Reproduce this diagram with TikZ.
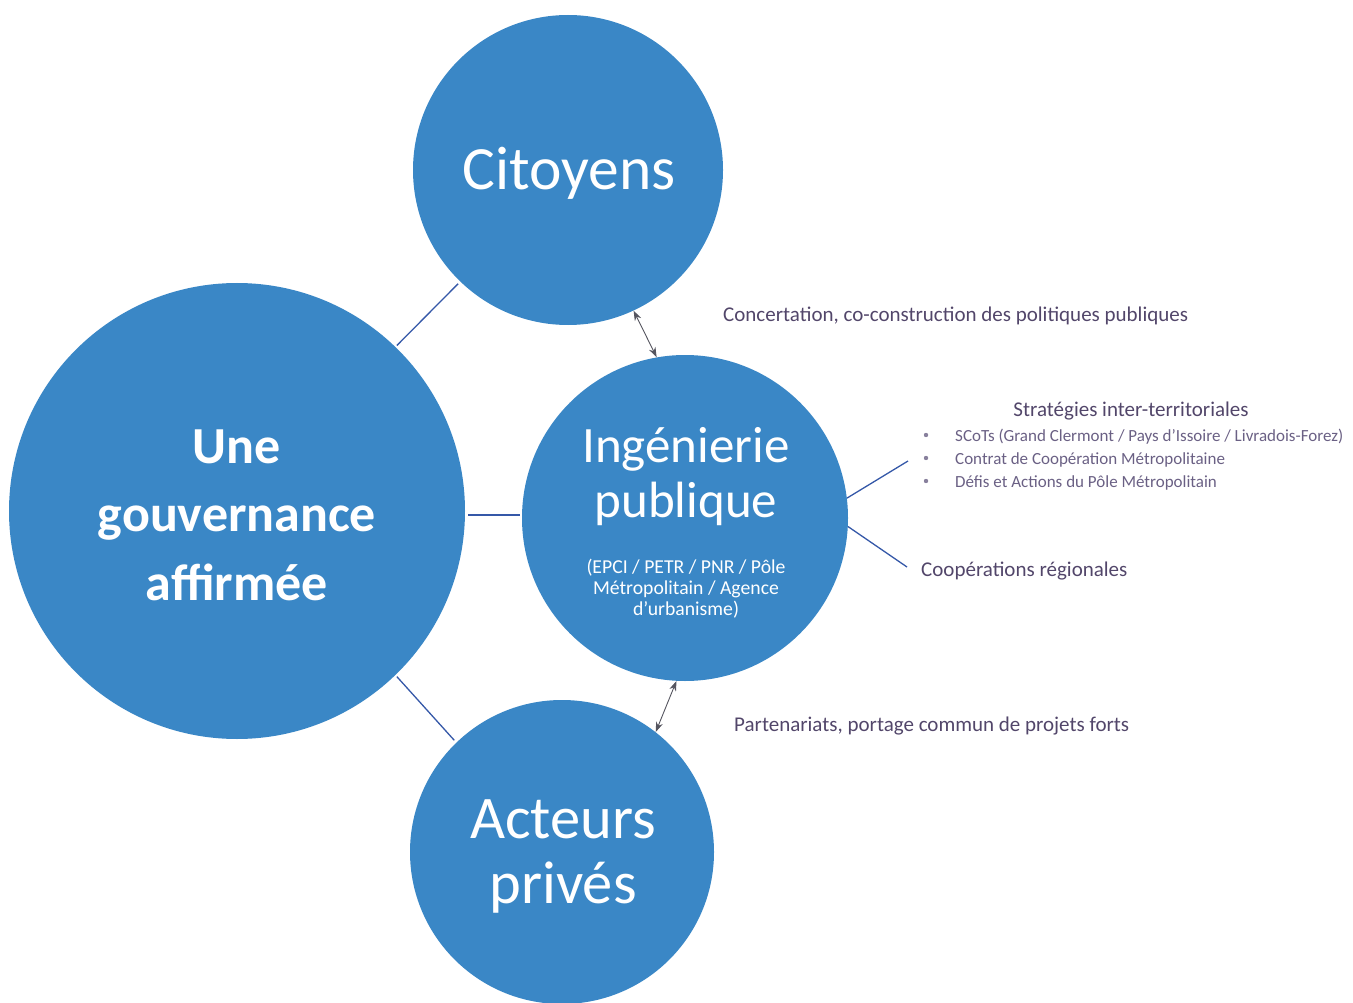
\documentclass[tikz,border=0pt]{standalone}
\usepackage{fontspec}
\setmainfont{Carlito}
\usetikzlibrary{arrows.meta}
\definecolor{disc}{HTML}{3A87C6}
\definecolor{lbl}{HTML}{52466A}
\definecolor{itm}{HTML}{6A6084}
\definecolor{lnk}{HTML}{3558A8}
\definecolor{arw}{HTML}{55555F}
\tikzset{
  disk/.style={circle, fill=disc, draw=none, inner sep=0pt},
  wtxt/.style={text=white, anchor=base, inner sep=0pt},
  rtxt/.style={text=lbl, anchor=base west, inner sep=0pt, font=\fontsize{21}{24}\selectfont},
  itxt/.style={text=itm, anchor=base west, inner sep=0pt, font=\fontsize{17}{20}\selectfont},
  link/.style={draw=lnk, line width=1.3pt},
  dbl/.style={draw=arw, line width=0.9pt, {Stealth[length=10pt,width=7pt]}-{Stealth[length=10pt,width=7pt]}}
}
\begin{document}
\begin{tikzpicture}[x=1pt,y=-1pt]
\useasboundingbox (0,0) rectangle (1353,1003);
\clip (0,0) rectangle (1353,1003);
% circles
\node[disk, minimum size=456pt] (gov) at (237,511) {};
\node[disk, minimum size=310pt] (cit) at (568,170) {};
\node[disk, minimum size=326pt] (ing) at (685,518) {};
\node[disk, minimum size=304pt] (act) at (562,852) {};
% circle texts
\node[wtxt, font=\fontsize{52}{60}\selectfont\bfseries] (g1) at (237,463) {Une};
\node[wtxt, font=\fontsize{52}{60}\selectfont\bfseries] (g2) at (237,531) {gouvernance};
\node[wtxt, font=\fontsize{52}{60}\selectfont\bfseries] (g3) at (237,600) {affirmée};
\node[wtxt, font=\fontsize{61.5}{70}\selectfont] (c1) at (569,190) {Citoyens};
\node[wtxt, font=\fontsize{51}{60}\selectfont] (i1) at (686,462) {Ingénierie};
\node[wtxt, font=\fontsize{51}{60}\selectfont] (i2) at (686,517) {publique};
\node[wtxt, font=\fontsize{19.7}{22}\selectfont] (i3) at (686,573) {(EPCI / PETR / PNR / Pôle};
\node[wtxt, font=\fontsize{19.7}{22}\selectfont] (i4) at (686,594) {Métropolitain / Agence};
\node[wtxt, font=\fontsize{19.7}{22}\selectfont] (i5) at (686,615) {d'urbanisme)};
\node[wtxt, font=\fontsize{60.5}{70}\selectfont] (a1) at (563,838) {Acteurs};
\node[wtxt, font=\fontsize{60.5}{70}\selectfont] (a2) at (563,903) {privés};
% right texts
\node[rtxt] (conc) at (723,322) {Concertation, co-construction des politiques publiques};
\node[rtxt, anchor=base] (strat) at (1131,416) {Stratégies inter-territoriales};
\node[itxt] (s1) at (955,441) {SCoTs (Grand Clermont / Pays d’Issoire / Livradois-Forez)};
\node[itxt] (s2) at (955,464) {Contrat de Coopération Métropolitaine};
\node[itxt] (s3) at (955,487) {Défis et Actions du Pôle Métropolitain};
\foreach \y/\n in {435/b1,458/b2,481/b3} \fill[itm!80] (926,\y) circle (2.2pt) coordinate (\n);
\node[rtxt] (coop) at (921,576) {Coopérations régionales};
\node[rtxt] (part) at (734,731) {Partenariats, portage commun de projets forts};
% connectors
\coordinate (e1) at (908,461);
\coordinate (e2) at (907,567);
\draw[link, shorten <=2pt, shorten >=3pt] (gov.46) -- (cit.226);
\draw[link, shorten <=3pt, shorten >=2pt] (gov.east |- 0,515) -- (ing.west |- 0,515);
\draw[link, shorten <=2pt, shorten >=3pt] (gov.-46) -- (act.134);
\draw[link] (ing.7) -- (e1);
\draw[link] (ing.-3) -- (e2);
\draw[dbl] (cit.-65) -- (ing.100);
\draw[dbl] (ing.-93) -- (act.52);
\end{tikzpicture}
\end{document}
